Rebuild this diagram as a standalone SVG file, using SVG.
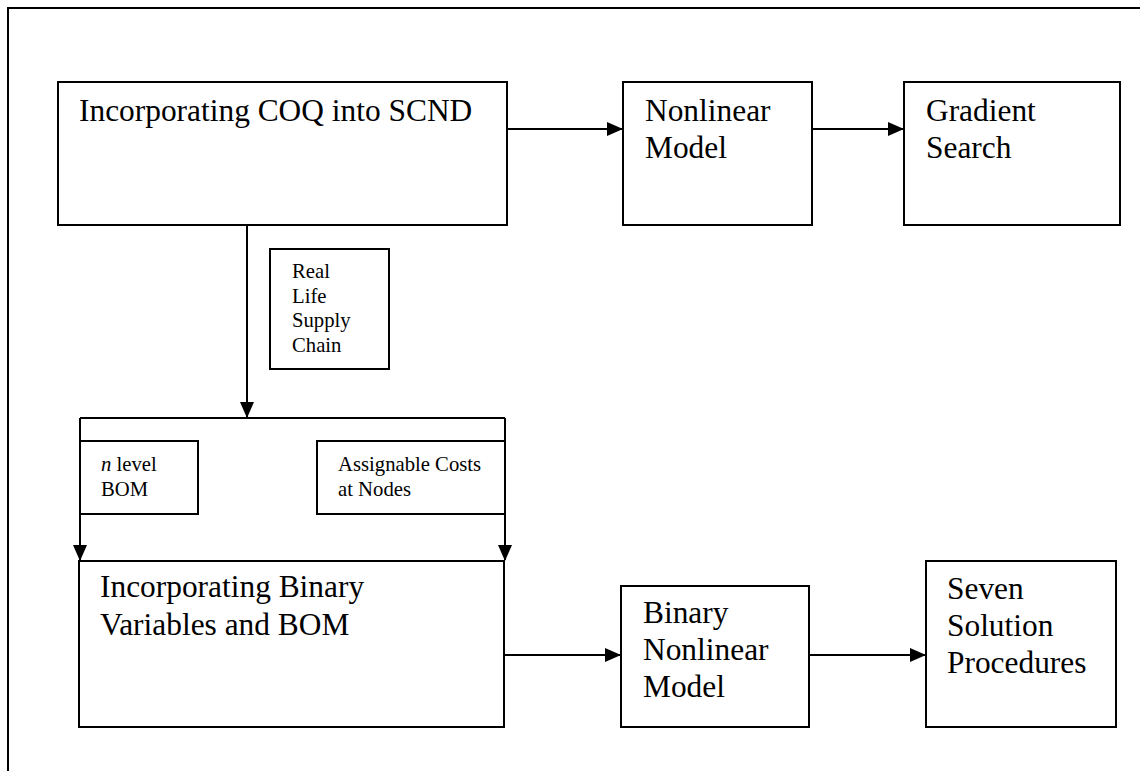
<svg xmlns="http://www.w3.org/2000/svg" width="1140" height="771" viewBox="0 0 1140 771">
  <style>
    .box { fill: #fff; stroke: #000; stroke-width: 2; }
    .frame { fill: none; stroke: #000; stroke-width: 2; }
    .wire { fill: none; stroke: #000; stroke-width: 2; }
    .big { font-family: "Liberation Serif", "Times New Roman", serif; font-size: 31.4px; fill: #000; }
    .small { font-family: "Liberation Serif", "Times New Roman", serif; font-size: 20.7px; fill: #000; }
  </style>
  <defs>
    <marker id="arrow" markerUnits="userSpaceOnUse" markerWidth="16" markerHeight="14" refX="15" refY="7" orient="auto">
      <path d="M0,0 L16,7 L0,14 z" fill="#000"/>
    </marker>
  </defs>
  <rect width="1140" height="771" fill="#fff"/>

  <!-- page frame (open on right and bottom) -->
  <path class="frame" d="M8,771 V8 H1140"/>

  <!-- connectors -->
  <g id="connectors">
    <line class="wire" x1="507" y1="129" x2="622" y2="129" marker-end="url(#arrow)"/>
    <line class="wire" x1="812" y1="129" x2="903" y2="129" marker-end="url(#arrow)"/>
    <line class="wire" x1="247" y1="225" x2="247" y2="417" marker-end="url(#arrow)"/>
    <line class="wire" x1="80" y1="418" x2="505" y2="418"/>
    <line class="wire" x1="80" y1="418" x2="80" y2="560" marker-end="url(#arrow)"/>
    <line class="wire" x1="505" y1="418" x2="505" y2="560" marker-end="url(#arrow)"/>
    <line class="wire" x1="504" y1="655" x2="620" y2="655" marker-end="url(#arrow)"/>
    <line class="wire" x1="809" y1="655" x2="925" y2="655" marker-end="url(#arrow)"/>
  </g>

  <g id="coq-scnd">
    <rect class="box" x="58" y="82" width="449" height="143"/>
    <text class="big" x="79" y="121">Incorporating COQ into SCND</text>
  </g>

  <g id="nonlinear-model">
    <rect class="box" x="623" y="82" width="189" height="143"/>
    <text class="big" x="645" y="121">Nonlinear</text>
    <text class="big" x="645" y="158">Model</text>
  </g>

  <g id="gradient-search">
    <rect class="box" x="904" y="82" width="216" height="143"/>
    <text class="big" x="926" y="121">Gradient</text>
    <text class="big" x="926" y="158">Search</text>
  </g>

  <g id="real-life">
    <rect class="box" x="270" y="249" width="119" height="120"/>
    <text class="small" x="292" y="278">Real</text>
    <text class="small" x="292" y="302.5">Life</text>
    <text class="small" x="292" y="327">Supply</text>
    <text class="small" x="292" y="351.5">Chain</text>
  </g>

  <g id="n-level-bom">
    <rect class="box" x="80" y="441" width="118" height="73"/>
    <text class="small" x="101" y="471"><tspan font-style="italic">n</tspan> level</text>
    <text class="small" x="101" y="496">BOM</text>
  </g>

  <g id="assignable-costs">
    <rect class="box" x="317" y="441" width="188" height="73"/>
    <text class="small" x="338" y="471">Assignable Costs</text>
    <text class="small" x="338" y="496">at Nodes</text>
  </g>

  <g id="binary-bom">
    <rect class="box" x="79" y="561" width="425" height="166"/>
    <text class="big" x="100" y="597">Incorporating Binary</text>
    <text class="big" x="100" y="635">Variables and BOM</text>
  </g>

  <g id="binary-nonlinear">
    <rect class="box" x="621" y="586" width="188" height="141"/>
    <text class="big" x="643" y="623">Binary</text>
    <text class="big" x="643" y="660">Nonlinear</text>
    <text class="big" x="643" y="697">Model</text>
  </g>

  <g id="seven-procedures">
    <rect class="box" x="926" y="561" width="190" height="166"/>
    <text class="big" x="947" y="599">Seven</text>
    <text class="big" x="947" y="636">Solution</text>
    <text class="big" x="947" y="673">Procedures</text>
  </g>
</svg>
